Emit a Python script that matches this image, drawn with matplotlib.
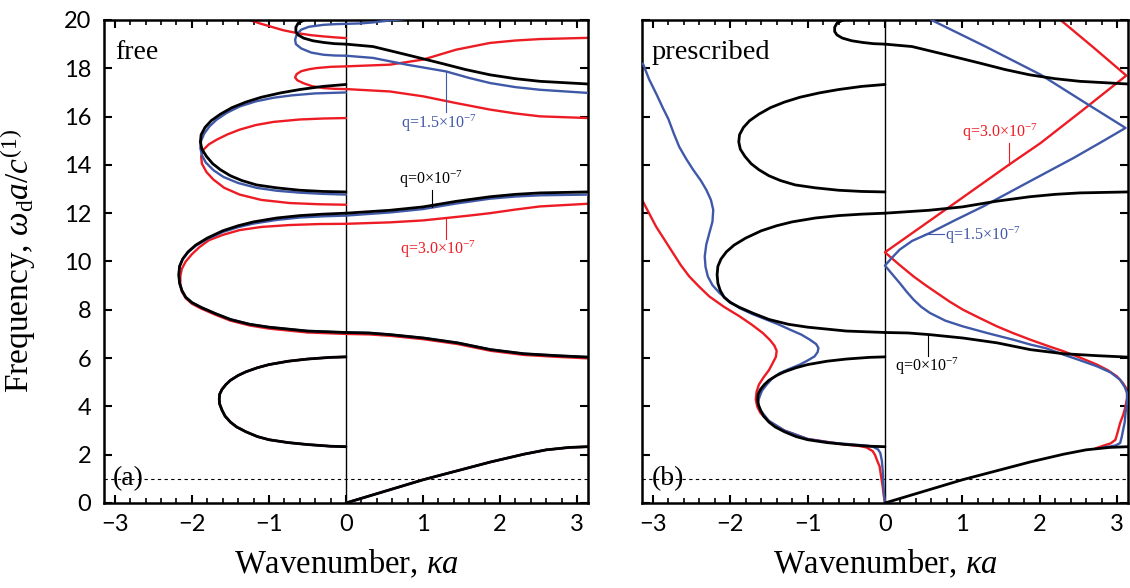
import matplotlib
matplotlib.use("Agg")
import matplotlib.pyplot as plt
from matplotlib.ticker import MultipleLocator

plt.rcParams["mathtext.fontset"] = "custom"
plt.rcParams["mathtext.rm"] = "Liberation Serif"
plt.rcParams["mathtext.it"] = "Liberation Serif:italic"

SERIF = "Liberation Serif"
SANS = "Lato"
RED = "#ED1C24"
BLUE = "#3F58A8"

# ---- q = 0 dispersion branches (same in both panels) ----
BLK_ACOUSTIC_K = [0, 0.5, 1.0, 1.5, 1.88, 2.31, 2.6, 2.9, 3.14]
BLK_ACOUSTIC_W = [0, 0.48, 0.96, 1.38, 1.7, 2.02, 2.2, 2.3, 2.33]
BLK_LOOP1_K = [0, -0.2, -0.5, -0.75, -1.0, -1.15, -1.3, -1.42, -1.5, -1.57, -1.61, -1.64, -1.645, -1.64,
               -1.61, -1.56, -1.5, -1.4, -1.3, -1.15, -1.0, -0.75, -0.5, -0.2, 0]
BLK_LOOP1_W = [2.33, 2.35, 2.42, 2.5, 2.62, 2.75, 2.95, 3.15, 3.35, 3.6, 3.85, 4.1, 4.3, 4.5,
               4.7, 4.9, 5.08, 5.28, 5.43, 5.6, 5.73, 5.87, 5.96, 6.03, 6.05]
BLK_BAND2_K = [0, 0.3, 0.58, 1.01, 1.45, 1.88, 2.31, 2.74, 3.14]
BLK_BAND2_W = [7.06, 7.04, 6.97, 6.83, 6.63, 6.35, 6.18, 6.1, 6.04]
BLK_LOOP2_K = [0, -0.5, -1.0, -1.25, -1.5, -1.7, -1.88, -2.0, -2.08, -2.13, -2.16, -2.17, -2.16, -2.12,
               -2.05, -1.95, -1.8, -1.6, -1.4, -1.2, -0.9, -0.6, -0.3, 0]
BLK_LOOP2_W = [7.06, 7.12, 7.28, 7.4, 7.6, 7.85, 8.1, 8.3, 8.52, 8.8, 9.1, 9.45, 9.8, 10.1,
               10.4, 10.68, 10.97, 11.27, 11.48, 11.64, 11.8, 11.9, 11.96, 12.0]
BLK_BAND3_K = [0, 0.57, 1.0, 1.43, 1.87, 2.2, 2.52, 3.14]
BLK_BAND3_W = [12.0, 12.12, 12.26, 12.49, 12.68, 12.78, 12.84, 12.88]
BLK_LOOP3_K = [0, -0.3, -0.6, -0.9, -1.16, -1.35, -1.5, -1.63, -1.73, -1.81, -1.87, -1.89, -1.88, -1.83,
               -1.75, -1.63, -1.48, -1.3, -1.1, -0.85, -0.6, -0.3, 0]
BLK_LOOP3_W = [12.88, 12.9, 12.95, 13.05, 13.17, 13.35, 13.55, 13.8, 14.05, 14.35, 14.65, 14.95, 15.25, 15.55,
               15.83, 16.1, 16.37, 16.6, 16.8, 16.98, 17.12, 17.25, 17.33]
BLK_BAND4_K = [0, 0.35, 0.79, 1.22, 1.55, 1.87, 2.2, 2.52, 3.14]
BLK_BAND4_W = [19.0, 18.9, 18.56, 18.22, 17.95, 17.73, 17.57, 17.46, 17.35]
BLK_TOP_K = [0, -0.15, -0.29, -0.43, -0.55, -0.62, -0.65, -0.65, -0.62, -0.56, -0.5]
BLK_TOP_W = [19.0, 19.02, 19.07, 19.14, 19.25, 19.38, 19.52, 19.7, 19.87, 19.97, 20.05]

# ---- (a) free, q = 1.5e-7 ----
BLUE_A_LOOP2_K = [0, -0.5, -1.0, -1.25, -1.5, -1.7, -1.88, -2.0, -2.08, -2.13, -2.16, -2.17, -2.16, -2.12,
                  -2.05, -1.95, -1.8, -1.6, -1.4, -1.2, -0.9, -0.6, -0.3, 0]
BLUE_A_LOOP2_W = [7.06, 7.12, 7.28, 7.4, 7.6, 7.85, 8.1, 8.3, 8.52, 8.8, 9.1, 9.45, 9.8, 10.1,
                  10.38, 10.65, 10.93, 11.22, 11.42, 11.57, 11.72, 11.82, 11.87, 11.9]
BLUE_A_BAND3_K = [0, 0.57, 1.0, 1.43, 1.87, 2.2, 2.52, 3.14]
BLUE_A_BAND3_W = [11.9, 12.03, 12.17, 12.4, 12.6, 12.69, 12.74, 12.77]
BLUE_A_LOOP3_K = [0, -0.3, -0.6, -0.9, -1.16, -1.4, -1.59, -1.72, -1.82, -1.87, -1.89, -1.88, -1.84, -1.77,
                  -1.68, -1.55, -1.38, -1.17, -0.94, -0.7, -0.4, 0]
BLUE_A_LOOP3_W = [12.77, 12.8, 12.85, 12.93, 13.05, 13.25, 13.5, 13.78, 14.1, 14.4, 14.7, 15.0, 15.3, 15.6,
                  15.87, 16.15, 16.42, 16.63, 16.78, 16.88, 16.96, 17.0]
BLUE_A_BAND4_K = [0, 0.35, 0.79, 1.30, 1.6, 1.87, 2.2, 2.52, 3.14]
BLUE_A_BAND4_W = [18.52, 18.43, 18.15, 17.87, 17.6, 17.39, 17.22, 17.11, 16.98]
BLUE_A_TOP_K = [0, -0.15, -0.29, -0.45, -0.58, -0.65, -0.66, -0.64, -0.58, -0.48, -0.29, -0.12, 0,
                0.2, 0.35, 0.57, 0.8]
BLUE_A_TOP_W = [18.52, 18.53, 18.56, 18.65, 18.82, 19.0, 19.18, 19.4, 19.6, 19.72, 19.8, 19.83, 19.84,
                19.86, 19.9, 19.98, 20.05]

# ---- (a) free, q = 3.0e-7 ----
RED_A_BAND2_K = [0, 0.3, 0.58, 1.01, 1.45, 1.88, 2.31, 2.74, 3.14]
RED_A_BAND2_W = [7.0, 6.98, 6.92, 6.78, 6.58, 6.3, 6.13, 6.05, 5.99]
RED_A_LOOP2_K = [0, -0.5, -1.0, -1.25, -1.5, -1.7, -1.88, -2.0, -2.08, -2.13, -2.15, -2.15, -2.13, -2.08,
                 -2.0, -1.9, -1.78, -1.6, -1.38, -1.1, -0.73, -0.35, 0]
RED_A_LOOP2_W = [7.0, 7.06, 7.22, 7.35, 7.55, 7.8, 8.05, 8.25, 8.48, 8.75, 9.05, 9.4, 9.7, 10.0,
                 10.3, 10.6, 10.88, 11.1, 11.3, 11.43, 11.51, 11.55, 11.56]
RED_A_BAND3_K = [0, 0.57, 1.0, 1.30, 1.6, 1.87, 2.2, 2.52, 3.14]
RED_A_BAND3_W = [11.56, 11.62, 11.7, 11.8, 11.9, 12.0, 12.15, 12.28, 12.39]
RED_A_LOOP3_K = [0, -0.35, -0.73, -1.1, -1.38, -1.58, -1.72, -1.81, -1.87, -1.88, -1.85, -1.78, -1.68,
                 -1.54, -1.38, -1.17, -0.94, -0.6, -0.3, 0]
RED_A_LOOP3_W = [12.35, 12.37, 12.42, 12.55, 12.77, 13.05, 13.39, 13.7, 14.05, 14.35, 14.63, 14.85, 15.04,
                 15.26, 15.46, 15.65, 15.78, 15.88, 15.92, 15.94]
RED_A_BAND4_K = [0, 0.57, 1.0, 1.43, 1.87, 2.2, 2.52, 3.14]
RED_A_BAND4_W = [17.14, 17.04, 16.84, 16.56, 16.29, 16.13, 16.01, 15.94]
RED_A_LOOP4_K = [0, -0.15, -0.29, -0.44, -0.55, -0.63, -0.66, -0.64, -0.58, -0.48, -0.38, -0.2, 0]
RED_A_LOOP4_W = [17.14, 17.15, 17.18, 17.26, 17.38, 17.5, 17.62, 17.76, 17.88, 17.96, 18.01, 18.06, 18.08]
RED_A_BAND5_K = [0, 0.57, 1.0, 1.2, 1.43, 1.87, 2.2, 2.52, 3.14]
RED_A_BAND5_W = [18.08, 18.15, 18.36, 18.55, 18.77, 19.05, 19.15, 19.21, 19.26]
RED_A_TOP_K = [-1.25, -1.12, -0.99, -0.82, -0.64, -0.45, -0.29, -0.14, 0]
RED_A_TOP_W = [20.0, 19.86, 19.74, 19.58, 19.46, 19.37, 19.32, 19.28, 19.25]

# ---- (b) prescribed, q = 1.5e-7 ----
BLUE_B_LEFT_K = [-3.13, -3.05, -2.95, -2.87, -2.8, -2.73, -2.66, -2.57, -2.48, -2.38, -2.31, -2.25, -2.22,
                 -2.23, -2.27, -2.31, -2.33, -2.32, -2.29, -2.23, -2.14, -2.02, -1.88, -1.72, -1.53,
                 -1.38, -1.23, -1.08, -0.97, -0.89, -0.86, -0.87, -0.91, -1.0, -1.10, -1.23, -1.36,
                 -1.46, -1.53, -1.59, -1.62, -1.64, -1.63, -1.6, -1.5, -1.3, -1.0, -0.7, -0.37,
                 -0.22, -0.15, -0.09, -0.06, -0.04, -0.03, -0.02, -0.01, 0]
BLUE_B_LEFT_W = [18.2, 17.55, 16.9, 16.35, 15.9, 15.3, 14.75, 14.25, 13.8, 13.35, 12.97, 12.55, 12.14,
                 11.65, 11.18, 10.7, 10.21, 9.78, 9.38, 9.02, 8.7, 8.37, 8.07, 7.83, 7.59,
                 7.4, 7.18, 6.97, 6.76, 6.58, 6.42, 6.25, 6.07, 5.9, 5.73, 5.56, 5.38,
                 5.15, 4.9, 4.65, 4.41, 4.2, 4.0, 3.8, 3.4, 3.0, 2.65, 2.5, 2.41,
                 2.37, 2.32, 2.22, 2.07, 1.75, 1.38, 0.8, 0.27, 0]
BLUE_B_RIGHT_K = [2.82, 2.91, 2.98, 3.04, 3.06, 3.08, 3.1, 3.11, 3.13, 3.13, 3.1, 3.04, 2.92, 2.74, 2.53,
                  2.31, 2.09, 1.88, 1.66, 1.33, 1.01, 0.78, 0.58, 0.47, 0.37, 0.28, 0.19, 0.1, 0,
                  0.08, 0.19, 0.35, 0.58, 0.9, 1.27, 1.85, 2.44, 2.8, 3.11, 2.55, 2.01, 1.3, 0.6]
BLUE_B_RIGHT_W = [2.3, 2.34, 2.38, 2.48, 2.72, 3.04, 3.35, 3.73, 4.15, 4.55, 4.8, 5.1, 5.4, 5.66, 5.9,
                  6.14, 6.4, 6.56, 6.76, 7.03, 7.31, 7.55, 7.87, 8.12, 8.42, 8.75, 9.11, 9.45, 9.83,
                  10.12, 10.49, 10.85, 11.18, 11.7, 12.28, 13.28, 14.29, 14.95, 15.53, 16.65, 17.74, 18.9, 20.0]

# ---- (b) prescribed, q = 3.0e-7 ----
RED_B_LEFT_K = [-3.14, -3.05, -2.96, -2.85, -2.74, -2.64, -2.53, -2.4, -2.27, -2.08, -1.88, -1.72, -1.58,
                -1.49, -1.43, -1.40, -1.41, -1.45, -1.5, -1.57, -1.63, -1.66, -1.67, -1.65, -1.61, -1.5,
                -1.3, -1.0, -0.54, -0.35, -0.24, -0.16, -0.13, -0.1, -0.07, -0.05, -0.03, -0.015, 0]
RED_B_LEFT_W = [12.55, 12.0, 11.45, 10.9, 10.35, 9.85, 9.38, 8.95, 8.55, 8.12, 7.73, 7.38, 7.04,
                6.76, 6.52, 6.3, 6.05, 5.8, 5.5, 5.2, 4.9, 4.6, 4.28, 3.98, 3.73, 3.38,
                3.0, 2.65, 2.43, 2.37, 2.3, 2.15, 2.0, 1.75, 1.52, 1.1, 0.69, 0.3, 0]
RED_B_RIGHT_K = [2.72, 2.83, 2.92, 2.98, 3.01, 3.04, 3.08, 3.11, 3.13, 3.13, 3.08, 3.0, 2.88, 2.74, 2.53,
                 2.31, 2.09, 1.88, 1.66, 1.45, 1.23, 1.01, 0.84, 0.67, 0.52, 0.37, 0.18, 0,
                 0.97, 1.6, 2.01, 2.55, 3.12, 2.7, 2.27]
RED_B_RIGHT_W = [2.26, 2.38, 2.47, 2.62, 2.95, 3.31, 3.65, 4.0, 4.35, 4.69, 4.95, 5.24, 5.5, 5.73, 6.01,
                 6.28, 6.52, 6.76, 7.03, 7.31, 7.65, 8.0, 8.33, 8.7, 9.03, 9.38, 9.88, 10.38,
                 12.57, 14.0, 14.9, 16.25, 17.7, 18.85, 20.0]

BLACK_BRANCHES = [
    (BLK_ACOUSTIC_K, BLK_ACOUSTIC_W), (BLK_LOOP1_K, BLK_LOOP1_W), (BLK_BAND2_K, BLK_BAND2_W),
    (BLK_LOOP2_K, BLK_LOOP2_W), (BLK_BAND3_K, BLK_BAND3_W), (BLK_LOOP3_K, BLK_LOOP3_W),
    (BLK_BAND4_K, BLK_BAND4_W), (BLK_TOP_K, BLK_TOP_W),
]
BLUE_A_BRANCHES = [
    (BLK_ACOUSTIC_K, BLK_ACOUSTIC_W), (BLK_LOOP1_K, BLK_LOOP1_W), (BLK_BAND2_K, BLK_BAND2_W),
    (BLUE_A_LOOP2_K, BLUE_A_LOOP2_W), (BLUE_A_BAND3_K, BLUE_A_BAND3_W), (BLUE_A_LOOP3_K, BLUE_A_LOOP3_W),
    (BLUE_A_BAND4_K, BLUE_A_BAND4_W), (BLUE_A_TOP_K, BLUE_A_TOP_W),
]
RED_A_BRANCHES = [
    (BLK_ACOUSTIC_K, BLK_ACOUSTIC_W), (BLK_LOOP1_K, BLK_LOOP1_W), (RED_A_BAND2_K, RED_A_BAND2_W),
    (RED_A_LOOP2_K, RED_A_LOOP2_W), (RED_A_BAND3_K, RED_A_BAND3_W), (RED_A_LOOP3_K, RED_A_LOOP3_W),
    (RED_A_BAND4_K, RED_A_BAND4_W), (RED_A_LOOP4_K, RED_A_LOOP4_W), (RED_A_BAND5_K, RED_A_BAND5_W),
    (RED_A_TOP_K, RED_A_TOP_W),
]
BLUE_B_BRANCHES = [(BLUE_B_LEFT_K, BLUE_B_LEFT_W), (BLUE_B_RIGHT_K, BLUE_B_RIGHT_W)]
RED_B_BRANCHES = [(RED_B_LEFT_K, RED_B_LEFT_W), (RED_B_RIGHT_K, RED_B_RIGHT_W)]

XTICKS = [-3, -2, -1, 0, 1, 2, 3]
YTICKS = [0, 2, 4, 6, 8, 10, 12, 14, 16, 18, 20]


def draw_branches(ax, branches, color, lw, z):
    for k, w in branches:
        ax.plot(k, w, color=color, lw=lw, zorder=z,
                solid_joinstyle="round", solid_capstyle="round")


def style_axes(ax, ylabels):
    ax.set_xlim(-3.1416, 3.1416)
    ax.set_ylim(0, 20)
    ax.set_xticks(XTICKS)
    ax.set_yticks(YTICKS)
    ax.xaxis.set_minor_locator(MultipleLocator(0.2))
    ax.tick_params(which="both", direction="in", top=True, right=True)
    ax.tick_params(which="major", length=6, width=1.5)
    ax.tick_params(which="minor", length=3.5, width=1.2)
    ax.tick_params(axis="x", pad=8)
    ax.tick_params(axis="y", pad=9)
    for lab in ax.get_xticklabels() + ax.get_yticklabels():
        lab.set_family(SANS)
        lab.set_fontsize(17)
    if not ylabels:
        ax.set_yticklabels([])
    for sp in ax.spines.values():
        sp.set_linewidth(1.8)
    ax.axvline(0, color="k", lw=1.0, zorder=1)
    ax.axhline(1.0, color="k", lw=0.8, ls=(0, (3, 3)), zorder=1)
    ax.set_xlabel(r"Wavenumber, $\kappa a$", family=SERIF, fontsize=23.5)
    ax.xaxis.set_label_coords(0.5, -0.093)


fig = plt.figure(figsize=(11.3, 5.88), dpi=100)
ax_a = fig.add_axes([0.0920, 0.1446, 0.4283, 0.8214])
ax_b = fig.add_axes([0.5681, 0.1446, 0.4301, 0.8214])

# (a) free
style_axes(ax_a, True)
draw_branches(ax_a, RED_A_BRANCHES, RED, 1.7, 2)
draw_branches(ax_a, BLUE_A_BRANCHES, BLUE, 1.7, 3)
draw_branches(ax_a, BLACK_BRANCHES, "k", 2.0, 4)
ax_a.set_ylabel(r"Frequency, $\omega_{\rm d}a/c^{(1)}$", family=SERIF, fontsize=24)
ax_a.yaxis.set_label_coords(-0.136, 0.5)
ax_a.text(-3.0, 18.4, "free", family=SERIF, fontsize=20, va="baseline")
ax_a.text(-3.03, 1.0, "(a)", family=SERIF, fontsize=20, va="center")

ax_a.plot([1.30, 1.30], [17.87, 16.2], color=BLUE, lw=0.8, zorder=5)
ax_a.text(1.21, 16.15, r"q=1.5$\times10^{-7}$", color=BLUE, family=SERIF, fontsize=11.5,
          ha="center", va="top")
ax_a.plot([1.12, 1.12], [12.27, 12.95], color="k", lw=0.8, zorder=5)
ax_a.text(1.10, 12.98, r"q=0$\times10^{-7}$", color="k", family=SERIF, fontsize=11.5,
          ha="center", va="bottom")
ax_a.plot([1.30, 1.30], [11.8, 10.95], color=RED, lw=0.8, zorder=5)
ax_a.text(1.19, 10.95, r"q=3.0$\times10^{-7}$", color=RED, family=SERIF, fontsize=11.5,
          ha="center", va="top")

# (b) prescribed
style_axes(ax_b, False)
draw_branches(ax_b, RED_B_BRANCHES, RED, 1.7, 2)
draw_branches(ax_b, BLUE_B_BRANCHES, BLUE, 1.7, 3)
draw_branches(ax_b, BLACK_BRANCHES, "k", 2.0, 4)
ax_b.text(-3.02, 18.4, "prescribed", family=SERIF, fontsize=20.5, va="baseline")
ax_b.text(-3.02, 1.0, "(b)", family=SERIF, fontsize=20, va="center")

ax_b.plot([1.60, 1.60], [14.0, 14.9], color=RED, lw=0.8, zorder=5)
ax_b.text(1.49, 14.9, r"q=3.0$\times10^{-7}$", color=RED, family=SERIF, fontsize=11.5,
          ha="center", va="bottom")
ax_b.plot([0.50, 0.76], [11.12, 11.12], color=BLUE, lw=0.8, zorder=5)
ax_b.text(0.78, 11.1, r"q=1.5$\times10^{-7}$", color=BLUE, family=SERIF, fontsize=11.5,
          ha="left", va="center")
ax_b.plot([0.55, 0.55], [6.97, 6.1], color="k", lw=0.8, zorder=5)
ax_b.text(0.13, 6.1, r"q=0$\times10^{-7}$", color="k", family=SERIF, fontsize=11.5,
          ha="left", va="top")

fig.savefig("out.png", dpi=100)
